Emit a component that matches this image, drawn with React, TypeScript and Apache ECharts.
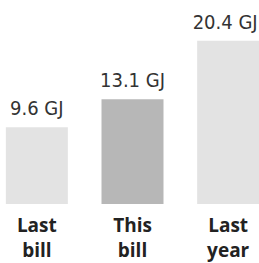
import React, { useEffect, useRef } from "react";
import * as echarts from "echarts";

const categories = ["Last\nbill", "This\nbill", "Last\nyear"];
const values = [9.6, 13.1, 20.4];
const valueLabels = ["9.6 GJ", "13.1 GJ", "20.4 GJ"];
const barColors = ["#e3e3e3", "#b7b7b7", "#e3e3e3"];

export default function App() {
  const ref = useRef<HTMLDivElement>(null);
  useEffect(() => {
    const chart = echarts.init(ref.current!, null, { renderer: "svg" });
    chart.setOption({
      animation: false,
      backgroundColor: "#ffffff",
      grid: { left: 0, right: 0, top: 4, height: 200 },
      xAxis: {
        type: "category",
        data: categories,
        axisLine: { show: false },
        axisTick: { show: false },
        axisLabel: {
          interval: 0,
          margin: 8,
          color: "#222222",
          fontFamily: "'Open Sans', sans-serif",
          fontWeight: "bold",
          fontSize: 19,
          lineHeight: 25,
        },
      },
      yAxis: { type: "value", min: 0, max: 25, show: false },
      series: [
        {
          type: "bar",
          barWidth: 62,
          data: values.map((v, i) => ({
            value: v,
            itemStyle: { color: barColors[i] },
            label: i === values.length - 1 ? { offset: [-3, 0] } : undefined,
          })),
          label: {
            show: true,
            position: "top",
            distance: 9,
            formatter: (p: any) => valueLabels[p.dataIndex],
            color: "#333333",
            fontFamily: "'DejaVu Sans Condensed', sans-serif",
            fontSize: 20,
          },
        },
      ],
    });
    return () => chart.dispose();
  }, []);
  return (
    <div style={{ position: "fixed", left: 0, top: 0, width: 259, height: 263, overflow: "hidden", background: "#fff" }}>
      <div
        ref={ref}
        style={{ position: "absolute", left: -11, top: 0, width: 287, height: 263 }}
      />
    </div>
  );
}
